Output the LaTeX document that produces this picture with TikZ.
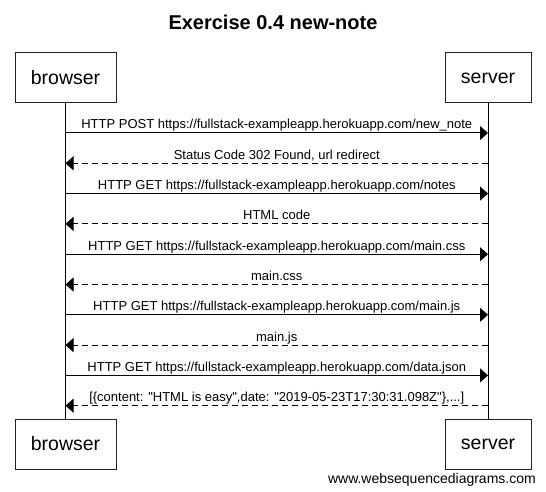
\documentclass[tikz,border=0pt]{standalone}
\usepackage{fontspec}
\setmainfont{Liberation Sans}[Ligatures=TeXOff]
\usetikzlibrary{arrows.meta,positioning}
\definecolor{actorline}{HTML}{222222}
\newcommand{\msgfont}{\fontsize{13}{15}\selectfont}

\begin{document}
\begin{tikzpicture}[x=1pt,y=-1pt,>={Triangle[length=8pt,width=14pt]},
  actor/.style={draw=actorline,line width=1pt,minimum height=50pt,inner sep=0pt,font=\fontsize{19.5}{22}\selectfont},
  life/.style={line width=1pt},
  req/.style={->,line width=1pt},
  resp/.style={->,line width=1pt,dash pattern=on 6pt off 4pt},
  lbl/.style={midway,anchor=base,yshift=4pt,inner sep=0pt,font=\msgfont}]
  \fill[white] (0,0) rectangle (546,492);
  \useasboundingbox (0,0) rectangle (546,492);
  \node[font=\bfseries\fontsize{20}{22}\selectfont] (title) at (273,22) {Exercise 0.4 new-note};
  % participants
  \node[actor,minimum width=101pt] (btop) at (65.5,78) {browser};
  \node[actor,minimum width=86pt] (stop) at (488,78) {server};
  \node[actor,minimum width=101pt] (bbot) at (65.5,444) {browser};
  \node[actor,minimum width=86pt] (sbot) at (488,444) {server};
  \draw[life] (btop.south) -- (bbot.north);
  \draw[life] (stop.south) -- (sbot.north);
  \foreach \y [count=\i] in {133,163.3,193.6,223.9,254.2,284.5,314.8,345.1,375.4,405.7}{
    \coordinate (b\i) at (65.5,\y);
    \coordinate (s\i) at (488,\y);
  }
  % messages
  \draw[req] (b1) -- (s1) node[lbl] {HTTP POST https://fullstack-exampleapp.herokuapp.com/new\_note};
  \draw[resp] (s2) -- (b2) node[lbl] {Status Code 302 Found, url redirect};
  \draw[req] (b3) -- (s3) node[lbl] {HTTP GET https://fullstack-exampleapp.herokuapp.com/notes};
  \draw[resp] (s4) -- (b4) node[lbl] {HTML code};
  \draw[req] (b5) -- (s5) node[lbl] {HTTP GET https://fullstack-exampleapp.herokuapp.com/main.css};
  \draw[resp] (s6) -- (b6) node[lbl] {main.css};
  \draw[req] (b7) -- (s7) node[lbl] {HTTP GET https://fullstack-exampleapp.herokuapp.com/main.js};
  \draw[resp] (s8) -- (b8) node[lbl] {main.js};
  \draw[req] (b9) -- (s9) node[lbl] {HTTP GET https://fullstack-exampleapp.herokuapp.com/data.json};
  \draw[resp] (s10) -- (b10) node[lbl] {[\{content: "HTML is easy",date: "2019-05-23T17:30:31.098Z"\},...]};
  \node[anchor=base east,inner sep=0pt,font=\fontsize{14}{16}\selectfont] (site) at (536,483) {www.websequencediagrams.com};
\end{tikzpicture}
\end{document}
